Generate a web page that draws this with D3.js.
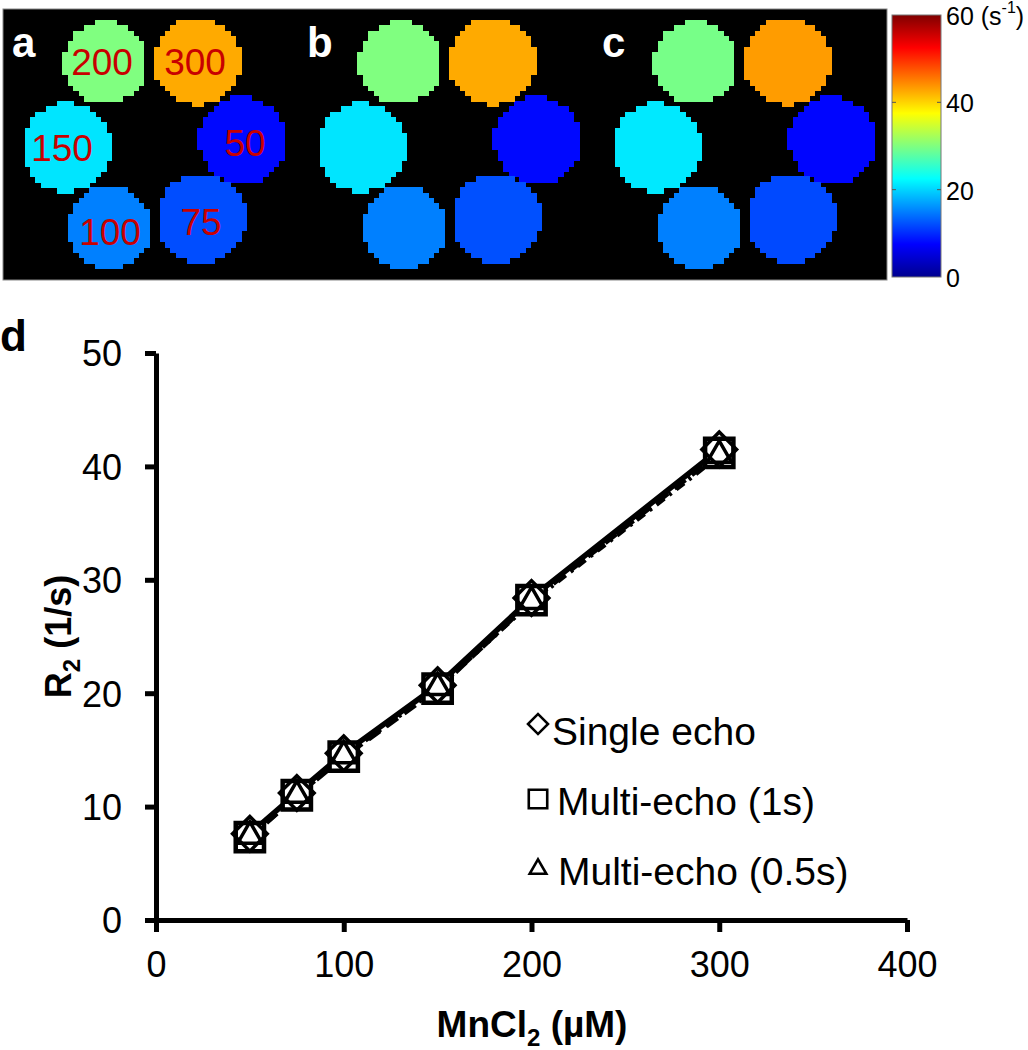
<!DOCTYPE html>
<html>
<head>
<meta charset="utf-8">
<script src="https://cdn.jsdelivr.net/npm/d3@7"></script>
<style>
  html, body { margin: 0; padding: 0; background: #fff; }
  svg { display: block; font-family: "Liberation Sans", Arial, sans-serif; }
</style>
</head>
<body>
<svg id="chart" width="1028" height="1050"></svg>
<script>
// ---------------- data ----------------
const concentrations = [50, 75, 100, 150, 200, 300];          // MnCl2 (µM)
const singleEcho     = [7.6, 11.2, 14.7, 20.7, 28.4, 41.5];   // R2 (1/s), plot d
const multiEcho1s    = [7.3, 11.0, 14.4, 20.4, 28.2, 41.2];
const multiEcho05s   = [7.4, 11.0, 14.5, 20.5, 28.1, 41.0];
// R2 values shown in the maps
const mapA = [8.0, 12.0, 15.0, 21.0, 30.0, 42.5];
const mapB = [8.0, 12.2, 15.0, 21.0, 30.0, 42.5];
const mapC = [7.8, 11.8, 15.0, 21.2, 29.5, 43.3];
const seriesNames    = ["Single echo", "Multi-echo (1s)", "Multi-echo (0.5s)"];
const panelLetters   = ["a", "b", "c"];
const xTicks  = [0, 100, 200, 300, 400];
const yTicks  = [0, 10, 20, 30, 40, 50];
const cbTicks = [0, 20, 40, 60];
// jet colour map stops
const jetStops = ["#00008f", "#0000ff", "#00ffff", "#ffff00", "#ff0000", "#800000"];
const jetPos   = [0, 0.125, 0.375, 0.625, 0.875, 1];

// ---------------- layout (not data) ----------------
const mapBox = {x: 3, y: 9, w: 884, h: 271, panelStep: 295, pix: 5.4};
// phantom vial geometry, relative to each panel's origin, in concentration order
const vialGeom = [
  {cx: 242, cy: 140, r: 43},  // 50
  {cx: 201, cy: 218, r: 44},  // 75
  {cx: 109, cy: 227, r: 41},  // 100
  {cx: 66,  cy: 147, r: 44},  // 150
  {cx: 105, cy: 62,  r: 41},  // 200
  {cx: 197, cy: 61,  r: 43}   // 300
];
const labelOffset = [[3, 3], [0, 4], [1, 5], [-4, 1], [-3, 0], [-2, 1]];

const svg = d3.select("#chart");

const jet = d3.scaleLinear().domain(jetPos).range(jetStops).interpolate(d3.interpolateRgb).clamp(true);
const cScale = d3.scaleLinear().domain([0, 60]).range([0, 1]);
const colorOf = v => jet(cScale(v));

// pixel cells (image-grid look) covering a disc
function discCells(cx, cy, r, s, ox, oy) {
  const out = [];
  const i0 = Math.floor((cx - r - ox) / s), i1 = Math.ceil((cx + r - ox) / s);
  const j0 = Math.floor((cy - r - oy) / s), j1 = Math.ceil((cy + r - oy) / s);
  for (let i = i0; i <= i1; i++) {
    for (let j = j0; j <= j1; j++) {
      const px = ox + i * s, py = oy + j * s;
      const dx = px + s / 2 - cx, dy = py + s / 2 - cy;
      if (dx * dx + dy * dy <= r * r) out.push({x: px, y: py});
    }
  }
  return out;
}

// ---------------- top maps ----------------
const seriesValues = [singleEcho, multiEcho1s, multiEcho05s];
const mapValues = [mapA, mapB, mapC];
const mapsG = svg.append("g");
mapsG.append("rect")
  .attr("x", mapBox.x).attr("y", mapBox.y).attr("width", mapBox.w).attr("height", mapBox.h)
  .attr("fill", "#000").attr("stroke", "#888").attr("stroke-width", 1);

panelLetters.forEach((letter, pi) => {
  const g = mapsG.append("g").attr("transform", `translate(${pi * mapBox.panelStep},0)`);
  concentrations.forEach((c, i) => {
    const geo = vialGeom[i];
    const col = colorOf(mapValues[pi][i]);
    g.append("g").attr("shape-rendering", "crispEdges").selectAll("rect")
      .data(discCells(geo.cx, geo.cy, geo.r, mapBox.pix, mapBox.x, mapBox.y))
      .join("rect")
      .attr("x", d => d.x).attr("y", d => d.y)
      .attr("width", mapBox.pix + 1).attr("height", mapBox.pix + 1)
      .attr("fill", col);
  });
  g.append("text")
    .attr("x", 12).attr("y", 57)
    .attr("fill", "#fff").attr("font-weight", "bold").attr("font-size", 42)
    .text(letter);
  if (pi === 0) {
    g.selectAll("text.conc")
      .data(concentrations.map((c, i) => ({c, geo: vialGeom[i], off: labelOffset[i]})))
      .join("text")
      .attr("class", "conc")
      .attr("x", d => d.geo.cx + d.off[0]).attr("y", d => d.geo.cy + d.off[1])
      .attr("text-anchor", "middle").attr("dominant-baseline", "central")
      .attr("fill", "#c80000").attr("font-size", 37)
      .text(d => d.c);
  }
});

// ---------------- colorbar ----------------
const cb = {x: 892, y0: 15, y1: 277, w: 49};
const cbY = d3.scaleLinear().domain([0, 60]).range([cb.y1, cb.y0]);
const defs = svg.append("defs");
const grad = defs.append("linearGradient").attr("id", "jetGrad")
  .attr("x1", 0).attr("y1", 1).attr("x2", 0).attr("y2", 0);
grad.selectAll("stop").data(jetPos).join("stop")
  .attr("offset", d => d).attr("stop-color", (d, i) => jetStops[i]);
svg.append("rect")
  .attr("x", cb.x).attr("y", cb.y0).attr("width", cb.w).attr("height", cb.y1 - cb.y0)
  .attr("fill", "url(#jetGrad)").attr("stroke", "#777").attr("stroke-width", 1);
const cbG = svg.append("g");
cbG.selectAll("line.l").data(cbTicks.slice(1, -1)).join("line").attr("class", "l")
  .attr("x1", cb.x).attr("x2", cb.x + 4).attr("y1", d => cbY(d)).attr("y2", d => cbY(d))
  .attr("stroke", "#555").attr("stroke-width", 1);
cbG.selectAll("line.r").data(cbTicks.slice(1, -1)).join("line").attr("class", "r")
  .attr("x1", cb.x + cb.w - 4).attr("x2", cb.x + cb.w).attr("y1", d => cbY(d)).attr("y2", d => cbY(d))
  .attr("stroke", "#555").attr("stroke-width", 1);
const cbLab = cbG.selectAll("text").data(cbTicks).join("text")
  .attr("x", 946).attr("y", d => cbY(d) + 1)
  .attr("dominant-baseline", "central").attr("font-size", 25).attr("fill", "#000");
cbLab.append("tspan").text(d => d);
cbLab.filter(d => d === 60).each(function () {
  const t = d3.select(this);
  t.append("tspan").text(" (s");
  t.append("tspan").attr("font-size", 16).attr("dy", -9).text("-1");
  t.append("tspan").attr("dy", 9).text(")");
});

// ---------------- scatter plot d ----------------
const x = d3.scaleLinear().domain([0, 400]).range([156, 907]);
const y = d3.scaleLinear().domain([0, 50]).range([920, 353]);

svg.append("text").attr("x", 0).attr("y", 351)
  .attr("font-weight", "bold").attr("font-size", 44).text("d");

const xAxis = svg.append("g").attr("transform", `translate(0,${y(0)})`)
  .call(d3.axisBottom(x).tickValues(xTicks).tickSize(12).tickSizeOuter(0).tickPadding(19));
const yAxis = svg.append("g").attr("transform", `translate(${x(0)},0)`)
  .call(d3.axisLeft(y).tickValues(yTicks).tickSize(11).tickSizeOuter(0).tickPadding(23));
[xAxis, yAxis].forEach(a => {
  a.select(".domain").attr("stroke", "#000").attr("stroke-width", 5);
  a.selectAll(".tick line").attr("stroke", "#000").attr("stroke-width", 5);
  a.selectAll(".tick text").attr("font-size", 36).attr("fill", "#000")
    .attr("font-family", "'Liberation Sans', Arial, sans-serif");
});
yAxis.selectAll(".tick text").attr("dy", "0.36em");

// axis titles
const xt = svg.append("text").attr("x", 532).attr("y", 1037)
  .attr("text-anchor", "middle").attr("font-weight", "bold").attr("font-size", 37);
xt.append("tspan").text("MnCl");
xt.append("tspan").attr("font-size", 24).attr("dy", 9).text("2");
xt.append("tspan").attr("dy", -9).text(" (\u00b5M)");

const yt = svg.append("text")
  .attr("transform", `translate(71,${(y(0) + y(50)) / 2}) rotate(-90)`)
  .attr("text-anchor", "middle").attr("font-weight", "bold").attr("font-size", 36);
yt.append("tspan").text("R");
yt.append("tspan").attr("font-size", 24).attr("dy", 9).text("2");
yt.append("tspan").attr("dy", -9).text(" (1/s)");

// lines
const lineGen = d3.line().x((d, i) => x(concentrations[i])).y(d => y(d));
const dashes = [null, "14,8", "10,6,3,6"];
const lineOrder = [2, 1, 0];
lineOrder.forEach(si => {
  svg.append("path").datum(seriesValues[si])
    .attr("d", lineGen).attr("fill", "none").attr("stroke", "#000")
    .attr("stroke-width", 5.5).attr("stroke-dasharray", dashes[si]);
});

// markers
const sym = {
  diamond: (s) => d3.symbol().type(d3.symbolSquare).size(s)(),
  square: (s) => d3.symbol().type(d3.symbolSquare).size(s)(),
  triangle: (s) => d3.symbol().type(d3.symbolTriangle).size(s)()
};
const markerDefs = [
  {type: "diamond", size: 600, rot: 45, fill: "none", sw: 3.5},
  {type: "square", size: 800, rot: 0, fill: "#fff", sw: 4.5},
  {type: "triangle", size: 260, rot: 0, fill: "none", sw: 3.5}
];
const drawOrder = [1, 0, 2];
drawOrder.forEach(si => {
  const m = markerDefs[si];
  svg.append("g").selectAll("path").data(seriesValues[si]).join("path")
    .attr("d", sym[m.type](m.size))
    .attr("transform", (d, i) => `translate(${x(concentrations[i])},${y(d)}) rotate(${m.rot})`)
    .attr("fill", m.fill).attr("stroke", "#000").attr("stroke-width", m.sw);
});

// legend
const legend = svg.append("g").attr("transform", "translate(538,0)");
const legendRows = [724, 799, 869];
const legendMarkers = [
  {type: "diamond", size: 200, rot: 45},
  {type: "square", size: 340, rot: 0},
  {type: "triangle", size: 120, rot: 0}
];
const legendTextX = [14, 19, 20];
seriesNames.forEach((name, i) => {
  const m = legendMarkers[i];
  legend.append("path").attr("d", sym[m.type](m.size))
    .attr("transform", `translate(0,${legendRows[i]}) rotate(${m.rot})`)
    .attr("fill", "none").attr("stroke", "#000").attr("stroke-width", 2.6);
  legend.append("text").attr("x", legendTextX[i]).attr("y", legendRows[i] + (i === 0 ? 21 : 16))
    .attr("font-size", 39).attr("fill", "#000").text(name);
});
</script>
</body>
</html>
